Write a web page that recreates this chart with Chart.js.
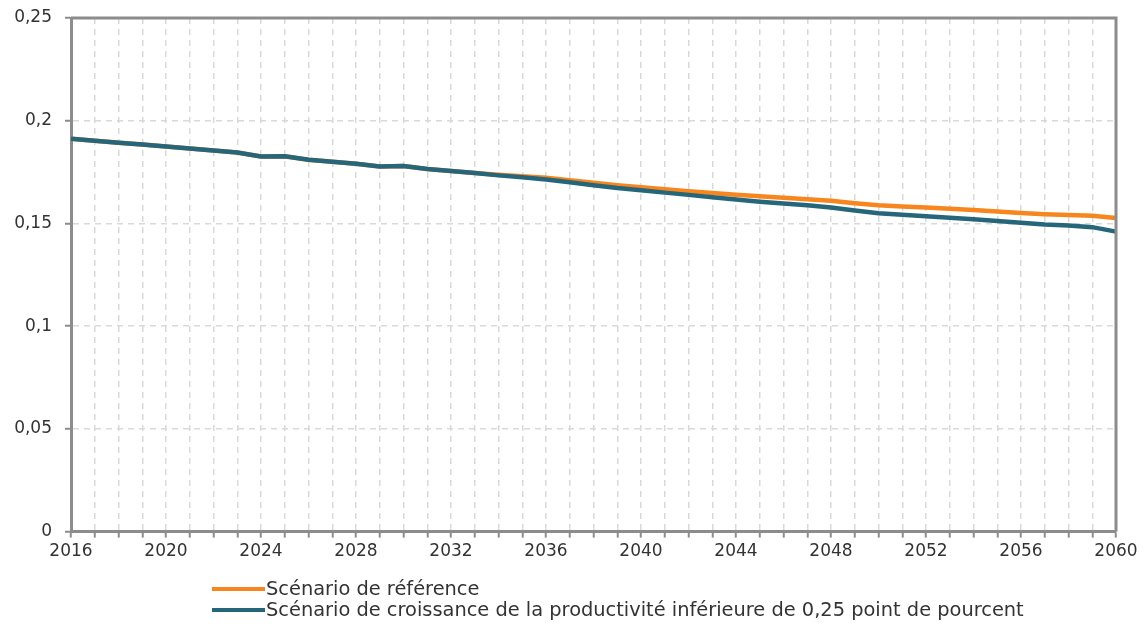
<!DOCTYPE html>
<html>
<head>
<meta charset="utf-8">
<script src="https://cdn.jsdelivr.net/npm/chart.js@4/dist/chart.umd.min.js"></script>
<style>
	body	{ margin: 0; background: #fff; font-family: "DejaVu Sans", sans-serif; }
	#wrap	{ position: relative; width: 1145px; height: 626px; }
	#legend	{ position: absolute; left: 212px; top: 578px; font-size: 19.4px; color: #333; line-height: 21px; }
	.item	{ display: flex; align-items: center; white-space: nowrap; }
	.swatch	{ display: inline-block; width: 53px; height: 4px; margin-right: 1px; }
</style>
</head>
<body>
<div id="wrap">
	<canvas id="chart" width="1145" height="626"></canvas>
	<div id="legend"></div>
</div>
<script>
const YEARS	= [];
for ( let y = 2016; y <= 2060; y++ ) YEARS.push( String( y ) );

const SERIES_NAMES	= [
	"Scénario de référence",
	"Scénario de croissance de la productivité inférieure de 0,25 point de pourcent"
];

// scénario de référence
const REF_VALUES	= [
	0.1912, 0.1902, 0.1893, 0.1884, 0.1875, 0.1865, 0.1855, 0.1845, 0.1826, 0.1827,
	0.1810, 0.1800, 0.1790, 0.1777, 0.1779, 0.1765, 0.1755, 0.1745, 0.1737, 0.1730,
	0.1722, 0.1710, 0.1698, 0.1686, 0.1676, 0.1666, 0.1657, 0.1648, 0.1640, 0.1632,
	0.1625, 0.1618, 0.1610, 0.1598, 0.1588, 0.1582, 0.1578, 0.1571, 0.1565, 0.1558,
	0.1551, 0.1545, 0.1541, 0.1537, 0.1526
];

// productivité -0,25 pt
const LOW_VALUES	= [
	0.1912, 0.1902, 0.1893, 0.1884, 0.1875, 0.1865, 0.1855, 0.1845, 0.1826, 0.1827,
	0.1810, 0.1800, 0.1790, 0.1777, 0.1779, 0.1765, 0.1755, 0.1745, 0.1734, 0.1725,
	0.1714, 0.1700, 0.1686, 0.1672, 0.1661, 0.1650, 0.1639, 0.1628, 0.1617, 0.1606,
	0.1597, 0.1588, 0.1578, 0.1563, 0.1550, 0.1542, 0.1535, 0.1528, 0.1520, 0.1512,
	0.1503, 0.1495, 0.1490, 0.1482, 0.1460
];

const COLORS	= [ "#f7861e", "#26667a" ];

const Y_MIN		= 0;
const Y_MAX		= 0.25;
const Y_STEP	= 0.05;

const AXIS_GREY	= "#8c8c8c";
const GRID_GREY	= "#d9d9d9";
const FONT		= { family: "'DejaVu Sans', sans-serif", size: 17 };

const frameBox	= {
	id: "frameBox",
	afterDraw( chart ) {
		const { ctx, chartArea: a } = chart;
		ctx.save();
		ctx.strokeStyle	= AXIS_GREY;
		ctx.lineWidth	= 3;
		ctx.beginPath();
		ctx.moveTo( a.left, a.top );
		ctx.lineTo( a.right, a.top );
		ctx.lineTo( a.right, a.bottom );
		ctx.stroke();
		ctx.restore();
	}
};

const datasets	= [ REF_VALUES, LOW_VALUES ].map( ( d, i ) => ( {
	label:			SERIES_NAMES[ i ],
	data:			d,
	borderColor:	COLORS[ i ],
	backgroundColor: COLORS[ i ],
	borderWidth:	4.5,
	pointRadius:	0,
	tension:		0,
	fill:			false,
	order:			1 - i		// la courbe bleue passe devant
} ) );

new Chart( document.getElementById( "chart" ), {
	type: "line",
	data: { labels: YEARS, datasets: datasets },
	options: {
		responsive: false,
		animation: false,
		layout: { padding: { left: 0, right: 29, top: 18, bottom: 60 } },
		plugins: {
			legend: { display: false },
			tooltip: { enabled: false }
		},
		scales: {
			x: {
				offset: false,
				grid: { color: GRID_GREY, lineWidth: 1.5, tickColor: AXIS_GREY, tickLength: 6, tickWidth: 2 },
				border: { color: AXIS_GREY, width: 3, dash: [ 6, 5 ] },
				ticks: {
					color: "#333",
					font: FONT,
					autoSkip: false,
					maxRotation: 0,
					padding: 4,
					callback: function ( v, i ) {
						const y = YEARS[ i ];
						return ( ( +y - 2016 ) % 4 === 0 ) ? y : "";
					}
				}
			},
			y: {
				min: Y_MIN,
				max: Y_MAX,
				grid: { color: GRID_GREY, lineWidth: 1.5, tickColor: AXIS_GREY, tickLength: 6, tickWidth: 2 },
				border: { color: AXIS_GREY, width: 3, dash: [ 6, 5 ] },
				ticks: {
					color: "#333",
					font: FONT,
					stepSize: Y_STEP,
					padding: 13,
					callback: v => String( Math.round( v * 100 ) / 100 ).replace( ".", "," )
				},
				afterFit: s => {
					s.width			= 71;
					s.paddingTop	= 0;
					s.paddingBottom	= 0;
				}
			}
		}
	},
	plugins: [ frameBox ]
} );

// légende en bas, alignée à gauche
const legend	= document.getElementById( "legend" );
SERIES_NAMES.forEach( ( name, i ) => {
	const row	= document.createElement( "div" );
	row.className	= "item";
	row.innerHTML	= '<span class="swatch" style="background:' + COLORS[ i ] + '"></span>' + name;
	legend.appendChild( row );
} );
</script>
</body>
</html>
